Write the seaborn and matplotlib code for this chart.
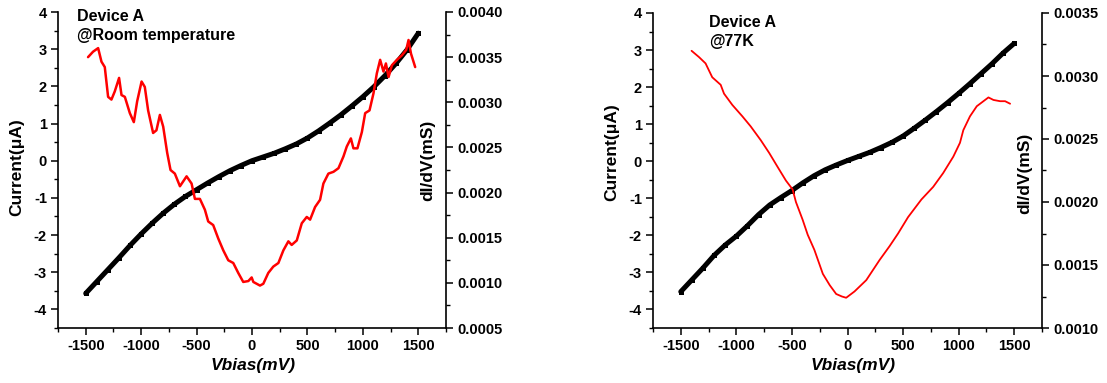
import numpy as np
import pandas as pd
import seaborn as sns
import matplotlib.pyplot as plt
from matplotlib.ticker import MultipleLocator

# I-V data, both temperatures (mV, uA)
vbias = [-1500, -1400, -1300, -1200, -1100, -1000, -900, -800, -700, -600, -500,
         -400, -300, -200, -100, 0, 100, 200, 300, 400, 500,
         600, 700, 800, 900, 1000, 1100, 1200, 1300, 1400, 1500]
current_room = [-3.57, -3.25, -2.93, -2.61, -2.28, -1.97, -1.68, -1.41, -1.17, -0.96, -0.78,
                -0.60, -0.43, -0.27, -0.13, 0.00, 0.10, 0.20, 0.32, 0.45, 0.61,
                0.80, 1.01, 1.23, 1.47, 1.72, 1.99, 2.29, 2.62, 2.99, 3.43]
current_77k = [-3.52, -3.20, -2.88, -2.54, -2.26, -2.02, -1.74, -1.44, -1.18, -0.98, -0.79,
               -0.58, -0.39, -0.23, -0.10, 0.02, 0.13, 0.24, 0.37, 0.51, 0.68,
               0.89, 1.11, 1.34, 1.58, 1.83, 2.09, 2.36, 2.63, 2.92, 3.18]

# dI/dV, room temperature (mV, mS)
v_didv_room = [-1479, -1434, -1388, -1358, -1328, -1298, -1268, -1238, -1199, -1177,
               -1147, -1102, -1066, -1036, -996, -967, -937, -892, -862, -831,
               -801, -765, -735, -696, -650, -590, -545, -515, -470, -425,
               -395, -350, -304, -259, -214, -169, -124, -79, -33, -3,
               12, 72, 102, 147, 192, 238, 283, 328, 358, 404,
               449, 494, 524, 569, 614, 644, 689, 735, 780, 825,
               855, 892, 915, 951, 991, 1021, 1060, 1096, 1126, 1156,
               1186, 1208, 1232, 1262, 1307, 1352, 1391, 1412, 1434, 1472]
didv_room = [0.00350, 0.00356, 0.00360, 0.00345, 0.00339, 0.00306, 0.00303, 0.00312, 0.00327, 0.00308,
             0.00306, 0.00288, 0.00278, 0.00301, 0.00323, 0.00317, 0.00291, 0.00266, 0.00269, 0.00286,
             0.00273, 0.00244, 0.00225, 0.00221, 0.00207, 0.00218, 0.00210, 0.00193, 0.00193, 0.00181,
             0.00168, 0.00164, 0.00149, 0.00136, 0.00125, 0.00122, 0.00111, 0.00101, 0.00102, 0.00106,
             0.00101, 0.00097, 0.00099, 0.00111, 0.00118, 0.00122, 0.00136, 0.00146, 0.00142, 0.00147,
             0.00166, 0.00173, 0.00170, 0.00184, 0.00192, 0.00210, 0.00221, 0.00223, 0.00227, 0.00240,
             0.00251, 0.00260, 0.00249, 0.00249, 0.00267, 0.00288, 0.00291, 0.00310, 0.00332, 0.00347,
             0.00334, 0.00343, 0.00328, 0.00341, 0.00347, 0.00352, 0.00358, 0.00369, 0.00354, 0.00339]

# dI/dV, 77K (mV, mS)
v_didv_77k = [-1403, -1336, -1277, -1217, -1141, -1111, -1036, -946, -871, -780,
              -705, -630, -554, -494, -464, -404, -358, -298, -222, -160,
              -102, -50, -12, 63, 169, 289, 379, 455, 545, 665,
              771, 861, 952, 1012, 1042, 1102, 1163, 1223, 1268, 1313,
              1373, 1418, 1463]
didv_77k = [0.00320, 0.00315, 0.00310, 0.00299, 0.00293, 0.00286, 0.00277, 0.00268, 0.00260, 0.00249,
            0.00239, 0.00228, 0.00217, 0.00210, 0.00200, 0.00186, 0.00174, 0.00162, 0.00143, 0.00134,
            0.00127, 0.00125, 0.00124, 0.00129, 0.00138, 0.00154, 0.00165, 0.00175, 0.00188, 0.00202,
            0.00212, 0.00223, 0.00236, 0.00247, 0.00257, 0.00268, 0.00276, 0.00280, 0.00283, 0.00281,
            0.00280, 0.00280, 0.00278]

sns.set_style("ticks")
plt.rcParams['font.family'] = ['Liberation Sans', 'DejaVu Sans']
plt.rcParams['font.weight'] = 'bold'
plt.rcParams['axes.unicode_minus'] = False
plt.rcParams['text.color'] = 'black'
plt.rcParams['xtick.color'] = 'black'
plt.rcParams['ytick.color'] = 'black'
plt.rcParams['axes.edgecolor'] = 'black'


def style_axis(ax):
    ax.spines['top'].set_visible(False)
    for side in ['left', 'bottom', 'right']:
        ax.spines[side].set_linewidth(1.2)
    ax.tick_params(which='major', length=5, width=1.1, labelsize=10.5, pad=3, colors='black')
    ax.tick_params(which='minor', length=3, width=1.0, colors='black')
    for lab in ax.get_xticklabels() + ax.get_yticklabels():
        lab.set_fontweight('bold')


def draw_panel(fig, rect, current, v_didv, didv, right_lim, right_major,
               title_lines, title_xy, red_lw, ylab_xy, rlab_xy, xlab_x):
    ax = fig.add_axes(rect)
    ax2 = ax.twinx()

    sns.lineplot(x=vbias, y=current, ax=ax, color='black', lw=3.6, marker='s',
                 markersize=3.6, markeredgewidth=0, sort=True)
    sns.lineplot(x=v_didv, y=didv, ax=ax2, color='#ff0000', lw=red_lw, sort=True)

    ax.set_xlim(-1750, 1750)
    ax.set_ylim(-4.5, 4)
    ax.xaxis.set_minor_locator(MultipleLocator(250))
    ax.yaxis.set_minor_locator(MultipleLocator(0.5))
    ax.set_xticks([-1500, -1000, -500, 0, 500, 1000, 1500])
    ax.set_yticks([-4, -3, -2, -1, 0, 1, 2, 3, 4])

    ax2.set_ylim(*right_lim)
    ax2.yaxis.set_major_locator(MultipleLocator(right_major))
    ax2.yaxis.set_minor_locator(MultipleLocator(right_major / 2))
    ax2.yaxis.set_major_formatter(lambda v, p: f"{v:.4f}")

    style_axis(ax)
    style_axis(ax2)
    ax2.spines['left'].set_visible(False)
    ax2.spines['bottom'].set_visible(False)
    ax.spines['right'].set_visible(False)

    ax.set_xlabel('')
    ax.set_ylabel('')
    ax2.set_ylabel('')

    fig.text(xlab_x, 0.045, 'Vbias(mV)', fontsize=12.5, fontweight='bold',
             style='italic', ha='center', va='center')
    fig.text(ylab_xy[0], ylab_xy[1], 'Current(μA)', fontsize=12.5, fontweight='bold',
             rotation=90, ha='center', va='center')
    fig.text(rlab_xy[0], rlab_xy[1], 'dI/dV(mS)', fontsize=12.5, fontweight='bold',
             rotation=90, ha='center', va='center')
    fig.text(title_xy[0], title_xy[1], title_lines, fontsize=11.5, fontweight='bold',
             ha='left', va='top', linespacing=1.35)
    return ax


fig = plt.figure(figsize=(11.07, 3.83), dpi=100)

ax_a = draw_panel(fig, [58 / 1107, 1 - 328 / 383, 388 / 1107, 316 / 383],
                  current_room, v_didv_room, didv_room, (0.0005, 0.0040), 0.0005,
                  'Device A\n@Room temperature', (77 / 1107, 1 - 9 / 383), 1.8,
                  (17 / 1107, 1 - 167 / 383), (428 / 1107, 1 - 160 / 383), 253 / 1107)

ax_b = draw_panel(fig, [653 / 1107, 1 - 328 / 383, 389 / 1107, 315 / 383],
                  current_77k, v_didv_77k, didv_77k, (0.0010, 0.0035), 0.0005,
                  'Device A\n@77K', (709 / 1107, 1 - 15 / 383), 1.3,
                  (612 / 1107, 1 - 152 / 383), (1025 / 1107, 1 - 173 / 383), 853 / 1107)

fig.savefig('out.png', dpi=100, facecolor='white')
